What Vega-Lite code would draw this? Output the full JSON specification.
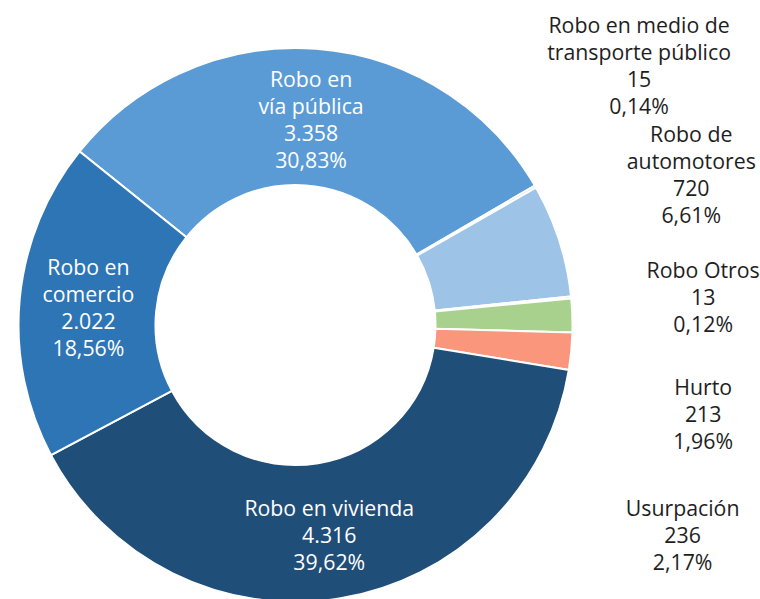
{
  "$schema": "https://vega.github.io/schema/vega-lite/v6.json",
  "autosize": {"type": "none"},
  "width": 591,
  "height": 548,
  "padding": {"left": 0, "top": 51, "right": 169, "bottom": 0},
  "background": "white",
  "config": {"text": {"font": "Open Sans", "fontSize": 21.3, "fontWeight": 500, "lineHeight": 27, "lineBreak": "\n", "align": "center", "baseline": "middle"}},
  "data": {
    "values": [
      {"ord": 1, "category": "Robo en vía pública", "value": 3358, "label": "Robo en\nvía pública\n3.358\n30,83%"},
      {"ord": 2, "category": "Robo en medio de transporte público", "value": 15, "label": "Robo en medio de\ntransporte público\n15\n0,14%"},
      {"ord": 3, "category": "Robo de automotores", "value": 720, "label": "Robo de\nautomotores\n720\n6,61%"},
      {"ord": 4, "category": "Robo Otros", "value": 13, "label": "Robo Otros\n13\n0,12%"},
      {"ord": 5, "category": "Hurto", "value": 213, "label": "Hurto\n213\n1,96%"},
      {"ord": 6, "category": "Usurpación", "value": 236, "label": "Usurpación\n236\n2,17%"},
      {"ord": 7, "category": "Robo en vivienda", "value": 4316, "label": "Robo en vivienda\n4.316\n39,62%"},
      {"ord": 8, "category": "Robo en comercio", "value": 2022, "label": "Robo en\ncomercio\n2.022\n18,56%"}
    ]
  },
  "resolve": {"scale": {"theta": "independent", "radius": "independent"}},
  "layer": [
    {
      "mark": {"type": "arc", "radius": 277, "radius2": 140, "stroke": "white", "strokeWidth": 2},
      "encoding": {
        "theta": {"field": "value", "type": "quantitative", "stack": true, "scale": {"range": [-0.8936, 5.3896]}},
        "order": {"field": "ord", "type": "quantitative"},
        "color": {
          "field": "category", "type": "nominal", "legend": null,
          "scale": {
            "domain": ["Robo en vía pública", "Robo en medio de transporte público", "Robo de automotores", "Robo Otros", "Hurto", "Usurpación", "Robo en vivienda", "Robo en comercio"],
            "range": ["#5b9bd5", "#8fb4dc", "#9dc3e6", "#cfcfcf", "#a9d18e", "#f9967c", "#1f4e79", "#2e75b6"]
          }
        }
      }
    },
    {
      "mark": {"type": "text", "radius": 208, "fill": "white", "dy": -36.5},
      "encoding": {
        "theta": {"field": "value", "type": "quantitative", "stack": true, "scale": {"range": [-0.8936, 5.3896]}},
        "order": {"field": "ord", "type": "quantitative"},
        "detail": {"field": "category", "type": "nominal"},
        "text": {"condition": {"test": "datum.value > 1000 && length(split(datum.label, '\\n')) == 4", "field": "label", "type": "nominal"}, "value": ""}
      }
    },
    {
      "mark": {"type": "text", "radius": 208, "fill": "white", "dy": -20},
      "encoding": {
        "theta": {"field": "value", "type": "quantitative", "stack": true, "scale": {"range": [-0.8936, 5.3896]}},
        "order": {"field": "ord", "type": "quantitative"},
        "detail": {"field": "category", "type": "nominal"},
        "text": {"condition": {"test": "datum.value > 1000 && length(split(datum.label, '\\n')) == 3", "field": "label", "type": "nominal"}, "value": ""}
      }
    },
    {
      "transform": [{"filter": "datum.value < 1000 && length(split(datum.label, '\\n')) == 4"}],
      "mark": {"type": "text", "fill": "#1e1e1e", "dy": -38.5},
      "encoding": {
        "theta": {
          "field": "category", "type": "nominal",
          "scale": {"type": "point", "padding": 0, "domain": ["Robo en medio de transporte público", "Robo de automotores", "Robo Otros", "Hurto", "Usurpación"], "range": [0.9233, 2.0577]}
        },
        "radius": {
          "field": "category", "type": "nominal",
          "scale": {"type": "point", "padding": 0, "domain": ["Robo Otros", "Hurto", "Robo de automotores", "Robo en medio de transporte público", "Usurpación"], "range": [409, 438]}
        },
        "text": {"field": "label", "type": "nominal"}
      }
    },
    {
      "transform": [{"filter": "datum.value < 1000 && length(split(datum.label, '\\n')) == 3"}],
      "mark": {"type": "text", "fill": "#1e1e1e", "dy": -20},
      "encoding": {
        "theta": {
          "field": "category", "type": "nominal",
          "scale": {"type": "point", "padding": 0, "domain": ["Robo en medio de transporte público", "Robo de automotores", "Robo Otros", "Hurto", "Usurpación"], "range": [0.9233, 2.0577]}
        },
        "radius": {
          "field": "category", "type": "nominal",
          "scale": {"type": "point", "padding": 0, "domain": ["Robo Otros", "Hurto", "Robo de automotores", "Robo en medio de transporte público", "Usurpación"], "range": [409, 438]}
        },
        "text": {"field": "label", "type": "nominal"}
      }
    }
  ]
}
